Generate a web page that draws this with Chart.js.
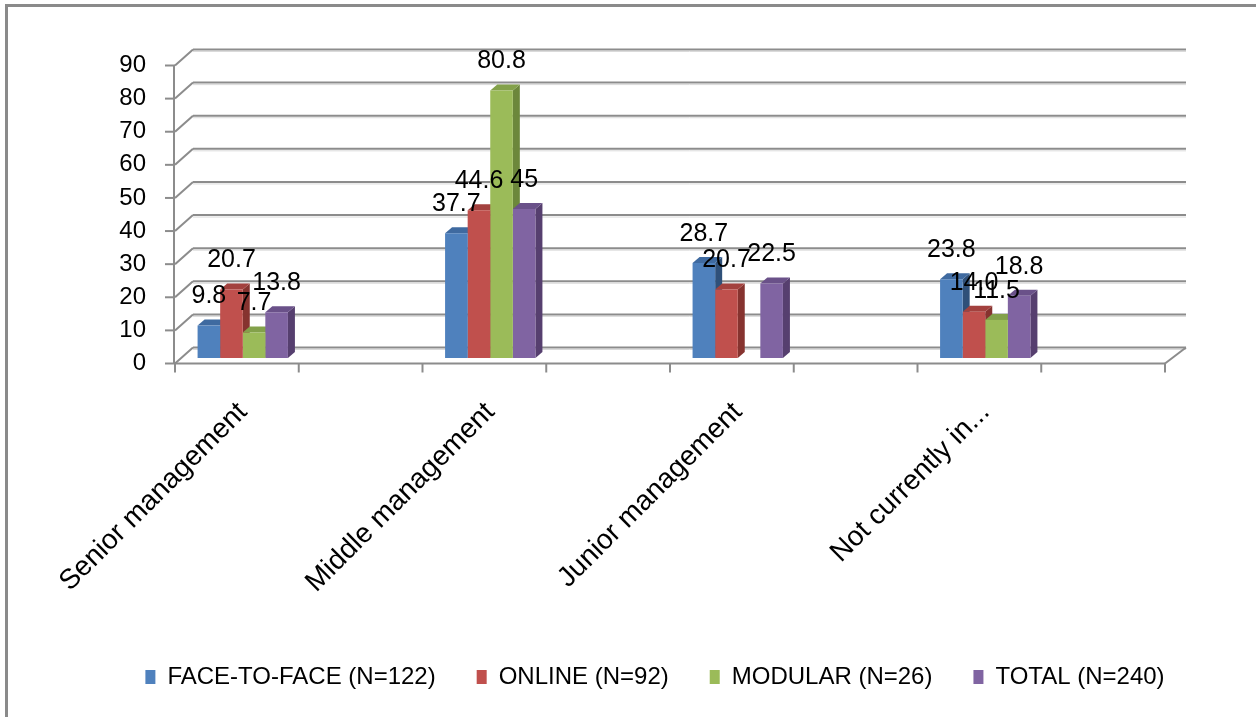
<!DOCTYPE html>
<html>
<head>
<meta charset="utf-8">
<title>Management level by programme</title>
<script src="https://cdn.jsdelivr.net/npm/chart.js@4.4.0/dist/chart.umd.min.js"></script>
<style>
    body { margin: 0; background: #fff; }
    #wrap { width: 1256px; height: 717px; }
</style>
</head>
<body>
<div id="wrap"><canvas id="levelChart" width="1256" height="717"></canvas></div>
<script>
const categories = ['Senior management', 'Middle management', 'Junior management', 'Not currently in...'];
const seriesNames = ['FACE-TO-FACE (N=122)', 'ONLINE (N=92)', 'MODULAR (N=26)', 'TOTAL (N=240)'];

// percentages, kept as the strings shown above each bar
const faceToFace = ['9.8', '37.7', '28.7', '23.8'];
const online = ['20.7', '44.6', '20.7', '14.0'];
const modular = ['7.7', '80.8', null, '11.5'];
const total = ['13.8', '45', '22.5', '18.8'];

const yTicks = [0, 10, 20, 30, 40, 50, 60, 70, 80, 90];

const frontColors = ['#4f81bd', '#c0504d', '#9bbb59', '#8064a2'];
const topColors = ['#3f6aa0', '#a3413e', '#83a14a', '#6a5189'];
const sideColors = ['#2f5079', '#86332f', '#6c873b', '#563f6f'];

// fake 3D geometry
const FLOOR_DX = 56;      // front floor edge relative to the category band
const WALL_DX = 18;       // back wall offset
const WALL_DY = 16;
const BAR_DX = 7;         // bar depth
const BAR_DY = 6;

function frontY(scale, v) {
    return scale.getPixelForValue(v) + 5.5;
}

function strokeLine(ctx, x1, y1, x2, y2) {
    ctx.beginPath();
    ctx.moveTo(x1, y1);
    ctx.lineTo(x2, y2);
    ctx.stroke();
}

const wallPlugin = {
    id: 'wall3d',
    beforeDatasetsDraw(chart) {
        const { ctx, chartArea: area } = chart;
        const y = chart.scales.y;
        ctx.save();

        // frame
        ctx.fillStyle = '#8a8a8a';
        ctx.fillRect(5, 4, chart.width - 5, 3);
        ctx.fillRect(5, 4, 3, chart.height - 4);

        const fx0 = area.left + FLOOR_DX;
        const fx1 = area.right + FLOOR_DX;
        const bx0 = fx0 + WALL_DX;
        const bx1 = fx1 + WALL_DX + 3;

        yTicks.forEach(v => {
            const fy = frontY(y, v);
            const by = fy - WALL_DY;
            ctx.strokeStyle = '#dadada';
            ctx.lineWidth = 1;
            strokeLine(ctx, bx0, by + 2, bx1, by + 2);
            ctx.strokeStyle = '#8c8c8c';
            ctx.lineWidth = 2;
            strokeLine(ctx, fx0, fy, bx0, by);
            strokeLine(ctx, bx0, by, bx1, by);
            strokeLine(ctx, fx0 - 10, fy, fx0, fy);

            ctx.fillStyle = '#000';
            ctx.font = '24px "Liberation Sans", Arial, sans-serif';
            ctx.textAlign = 'right';
            ctx.textBaseline = 'middle';
            ctx.fillText(String(v), fx0 - 29, fy);
        });

        // front axis and floor edge
        const y0 = frontY(y, 0);
        ctx.strokeStyle = '#8c8c8c';
        ctx.lineWidth = 2;
        strokeLine(ctx, fx0 - 1, frontY(y, 90), fx0 - 1, y0);
        strokeLine(ctx, fx0, y0, fx1, y0);
        strokeLine(ctx, fx1, y0, bx1, y0 - WALL_DY);
        const step = (fx1 - fx0) / (categories.length * 2);
        for (let k = 0; k <= categories.length * 2; k++) {
            strokeLine(ctx, fx0 + k * step, y0, fx0 + k * step, y0 + 9);
        }

        // top and side faces go underneath the front faces
        chart.data.datasets.forEach((ds, i) => {
            const meta = chart.getDatasetMeta(i);
            meta.data.forEach((bar, j) => {
                if (ds.data[j] === null) return;
                const { x, y: top, base, width } = bar.getProps(['x', 'y', 'base', 'width'], true);
                const left = x - width / 2;
                const right = x + width / 2;
                ctx.fillStyle = sideColors[i];
                ctx.beginPath();
                ctx.moveTo(right, top);
                ctx.lineTo(right + BAR_DX, top - BAR_DY);
                ctx.lineTo(right + BAR_DX, base - BAR_DY);
                ctx.lineTo(right, base);
                ctx.closePath();
                ctx.fill();
                ctx.fillStyle = topColors[i];
                ctx.beginPath();
                ctx.moveTo(left, top);
                ctx.lineTo(left + BAR_DX, top - BAR_DY);
                ctx.lineTo(right + BAR_DX, top - BAR_DY);
                ctx.lineTo(right, top);
                ctx.closePath();
                ctx.fill();
            });
        });
        ctx.restore();
    },
    afterDatasetsDraw(chart) {
        const { ctx } = chart;
        ctx.save();
        ctx.fillStyle = '#000';
        ctx.font = '25px "Liberation Sans", Arial, sans-serif';
        ctx.textAlign = 'center';
        ctx.textBaseline = 'middle';
        chart.data.datasets.forEach((ds, i) => {
            chart.getDatasetMeta(i).data.forEach((bar, j) => {
                const raw = ds.data[j];
                if (raw === null) return;
                ctx.fillText(raw, bar.x, bar.y - BAR_DY - 23);
            });
        });
        ctx.restore();
    }
};

const seriesData = [faceToFace, online, modular, total];

new Chart(document.getElementById('levelChart'), {
    type: 'bar',
    data: {
        labels: categories,
        datasets: seriesNames.map((name, i) => ({
            label: name,
            data: seriesData[i],
            backgroundColor: frontColors[i],
            borderWidth: 0,
            barPercentage: 1,
            categoryPercentage: 0.365
        }))
    },
    options: {
        responsive: false,
        animation: false,
        layout: { padding: { left: 54, top: 60, right: 0, bottom: 18 } },
        plugins: {
            tooltip: { enabled: false },
            legend: {
                position: 'bottom',
                labels: {
                    boxWidth: 10,
                    boxHeight: 14,
                    padding: 41,
                    color: '#000',
                    font: { family: '"Liberation Sans", Arial, sans-serif', size: 24 }
                }
            }
        },
        scales: {
            x: {
                grid: { display: false },
                border: { display: false },
                ticks: {
                    autoSkip: false,
                    minRotation: 45,
                    maxRotation: 45,
                    padding: 30,
                    color: '#000',
                    font: { family: '"Liberation Sans", Arial, sans-serif', size: 28 }
                },
                afterFit: scale => { scale.height = 266; }
            },
            y: {
                min: 0,
                max: 90,
                ticks: { display: false, stepSize: 10 },
                grid: { display: false },
                border: { display: false },
                afterFit: scale => { scale.width = 65; }
            },
            spacer: {
                type: 'linear',
                position: 'right',
                ticks: { display: false },
                grid: { display: false },
                border: { display: false },
                afterFit: scale => { scale.width = 147; }
            }
        }
    },
    plugins: [wallPlugin]
});
</script>
</body>
</html>
